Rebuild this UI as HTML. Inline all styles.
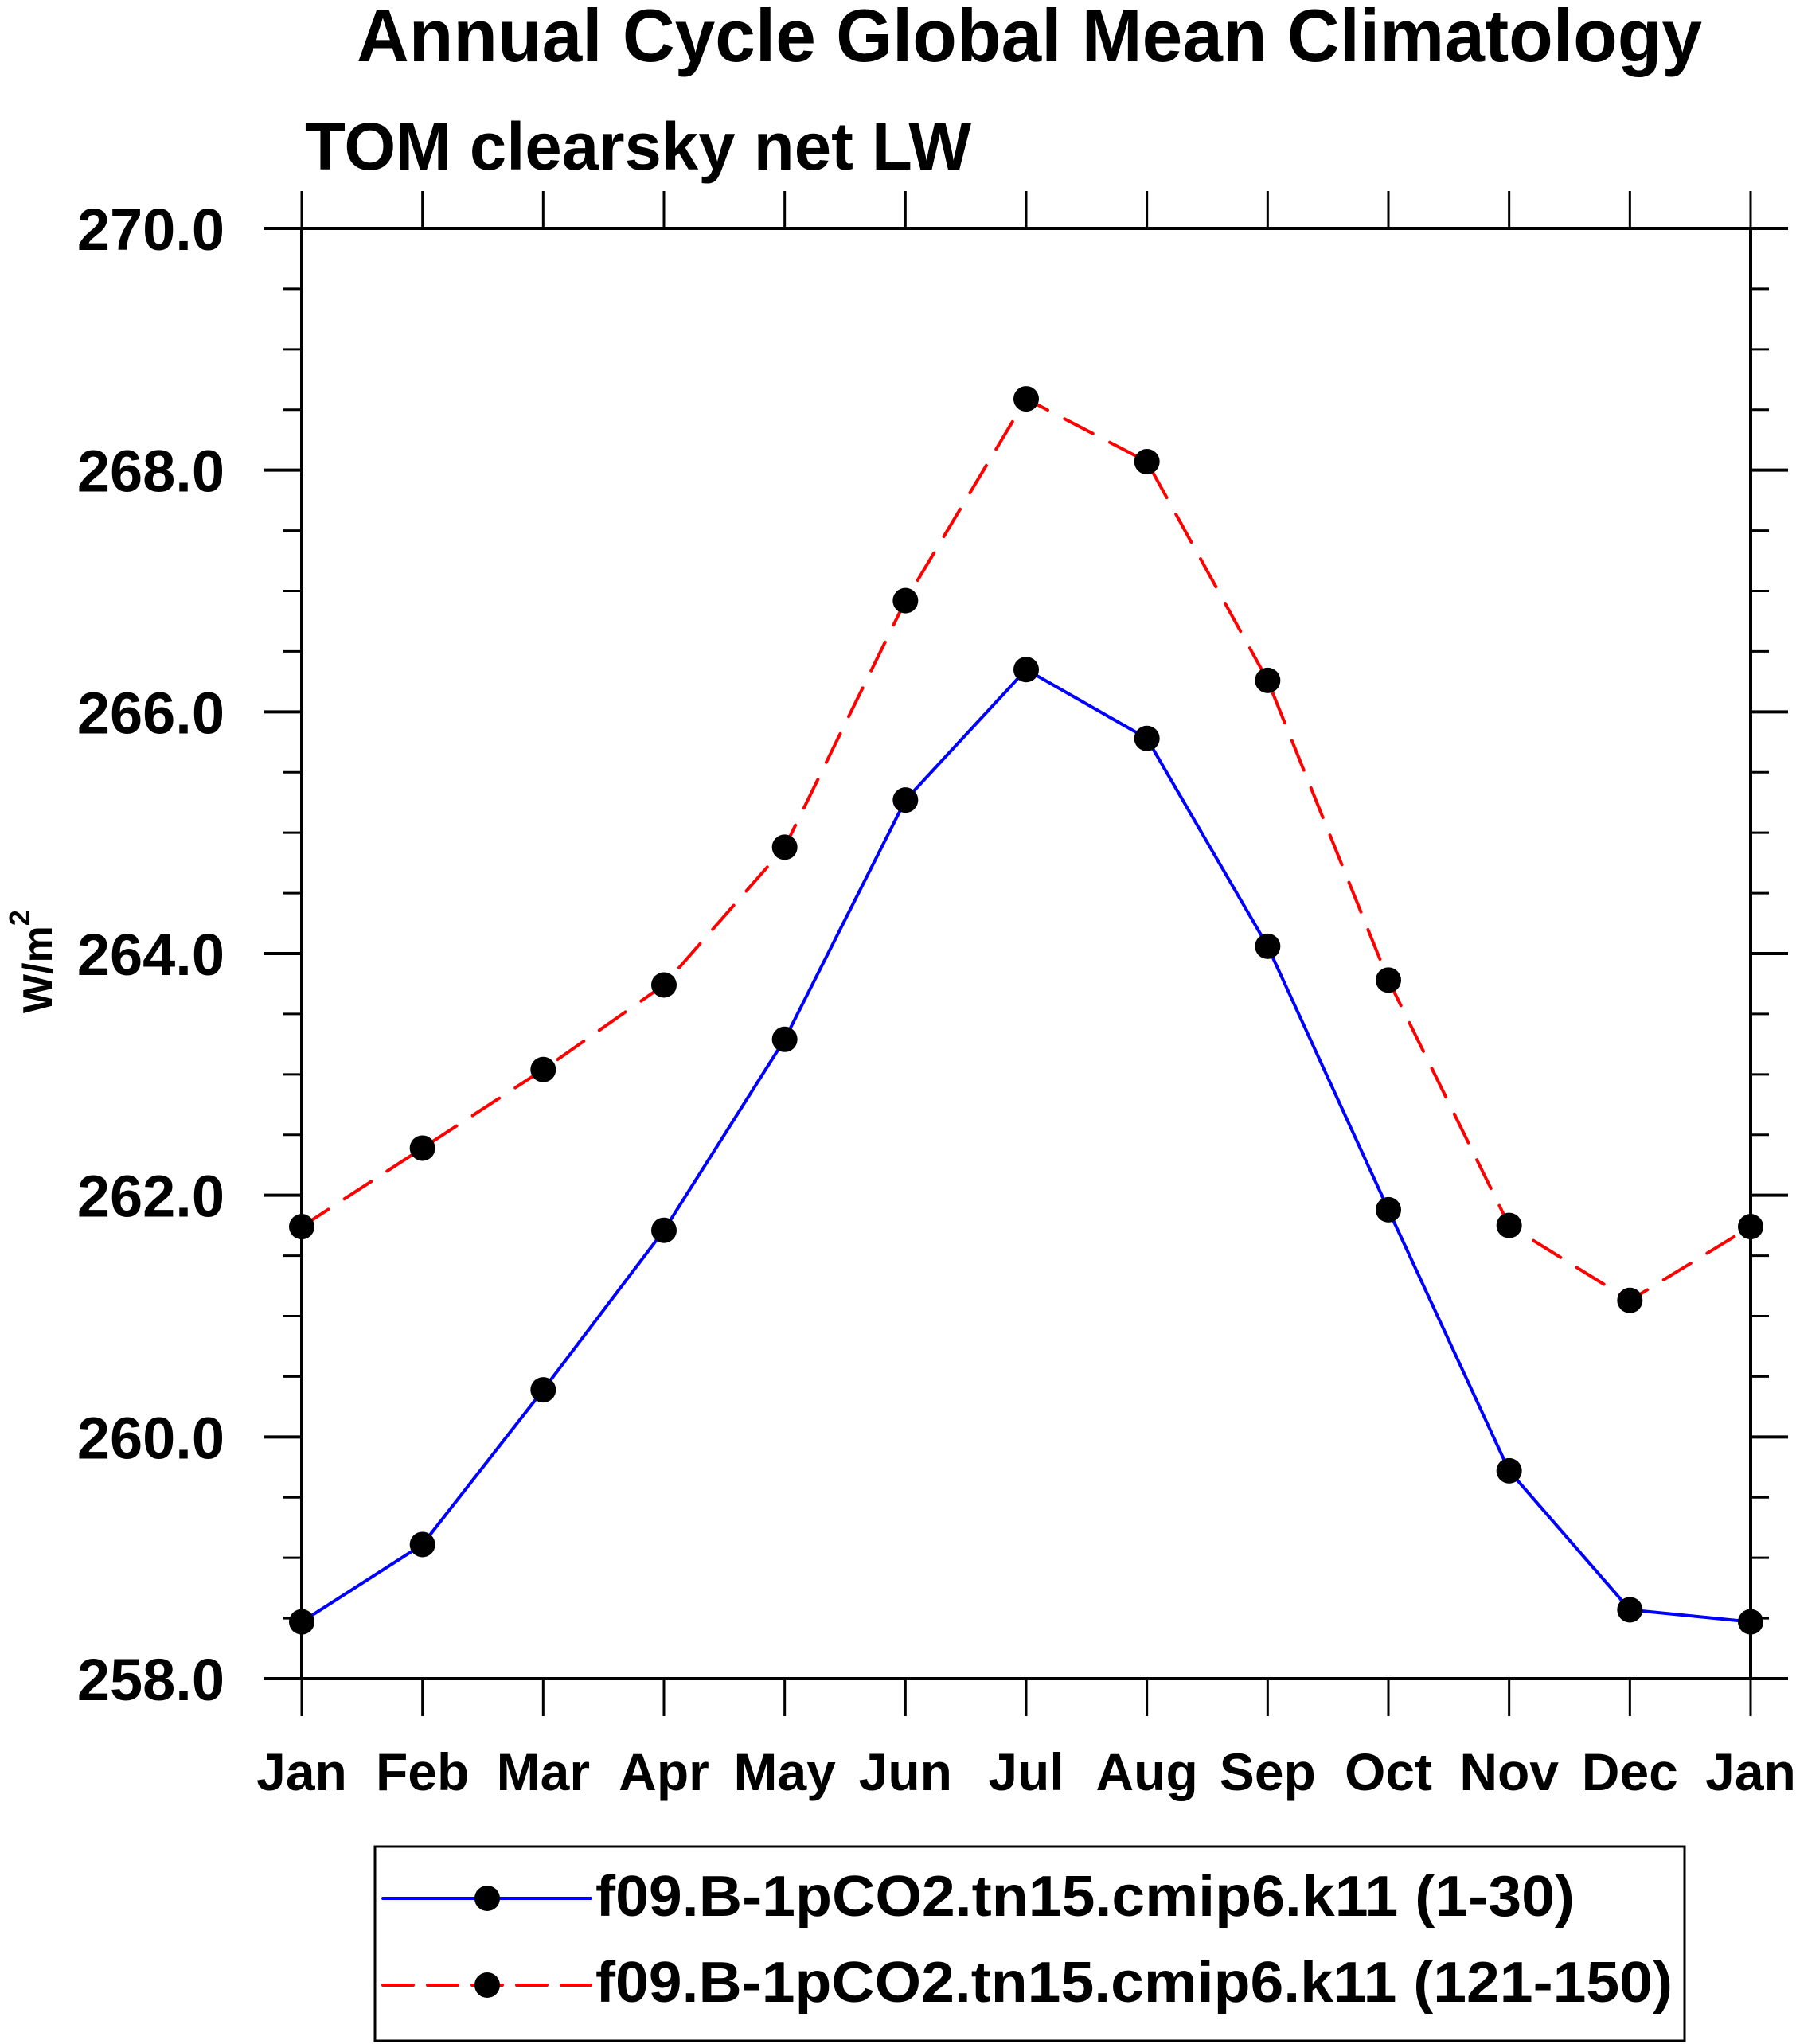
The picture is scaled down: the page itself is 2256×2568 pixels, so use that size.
<!DOCTYPE html>
<html><head><meta charset="utf-8"><style>
html,body{margin:0;padding:0;background:#fff;}
svg{display:block;font-family:"Liberation Sans",sans-serif;font-weight:bold;}
</style></head><body>
<svg id="chart" width="2256" height="2568" viewBox="0 0 2256 2568" xmlns="http://www.w3.org/2000/svg">
<text x="448" y="77" font-size="94" textLength="1690" lengthAdjust="spacingAndGlyphs">Annual Cycle Global Mean Climatology</text>
<text x="383" y="213" font-size="84" textLength="837" lengthAdjust="spacingAndGlyphs">TOM clearsky net LW</text>
<text transform="translate(65,1273) rotate(-90)" font-size="52">W/m<tspan font-size="36" dy="-28">2</tspan></text>
<g id="axes"></g>
<g id="series"></g>
<rect x="471" y="2320" width="1645" height="244" fill="none" stroke="#000" stroke-width="3"/>
<g>
<line x1="481" y1="2385" x2="742" y2="2385" stroke="#0000ff" stroke-width="4" stroke-linecap="round"/>
<circle cx="612" cy="2385" r="16" fill="#000"/>
<text x="748" y="2407" font-size="72" textLength="1230" lengthAdjust="spacingAndGlyphs">f09.B-1pCO2.tn15.cmip6.k11 (1-30)</text>
</g>
<g>
<line x1="481" y1="2494" x2="742" y2="2494" stroke="#ff0000" stroke-width="4" stroke-linecap="round" stroke-dasharray="38 18"/>
<circle cx="612" cy="2494" r="16" fill="#000"/>
<text x="748" y="2515" font-size="72" textLength="1353" lengthAdjust="spacingAndGlyphs">f09.B-1pCO2.tn15.cmip6.k11 (121-150)</text>
</g>
</svg>
<script>
const months = ["Jan","Feb","Mar","Apr","May","Jun","Jul","Aug","Sep","Oct","Nov","Dec","Jan"];
const yTicks = [258,260,262,264,266,268,270];
const yTickLabels = ["258.0","260.0","262.0","264.0","266.0","268.0","270.0"];
const seriesEarly = [258.47,259.11,260.39,261.71,263.29,265.27,266.35,265.78,264.06,261.88,259.72,258.57,258.47];
const seriesLate = [261.74,262.39,263.04,263.74,264.88,266.92,268.59,268.07,266.26,263.78,261.75,261.13,261.74];

const NS="http://www.w3.org/2000/svg";
const L=379,R=2199,T=287,B=2109,YMIN=258,YMAX=270;
function xs(i){return L+(R-L)*i/(months.length-1);}
function ys(v){return B-(B-T)*(v-YMIN)/(YMAX-YMIN);}
function mk(tag,attrs,parent){const e=document.createElementNS(NS,tag);for(const k in attrs)e.setAttribute(k,attrs[k]);parent.appendChild(e);return e;}
const axes=document.getElementById('axes');
const frame=mk('rect',{x:L,y:T,width:R-L,height:B-T,fill:'none',stroke:'#000','stroke-width':4},axes);


// x ticks
months.forEach((m,i)=>{
  const x=xs(i);
  const t1=mk('line',{x1:x,y1:B,x2:x,y2:B+47,stroke:'#000','stroke-width':3},axes);
  
  
  const t2=mk('line',{x1:x,y1:T,x2:x,y2:T-47,stroke:'#000','stroke-width':3},axes);
  
  
  const tx=mk('text',{x:x,y:2249,'font-size':66,'text-anchor':'middle'},axes);
  tx.textContent=m;
  
  
});
// y ticks
for(let v=YMIN;v<=YMAX+1e-9;v+=0.5){
  const y=ys(v);const major=Math.abs(v-Math.round(v/2)*2)<1e-9;const len=major?47:23;
  const a=mk('line',{x1:L,y1:y,x2:L-len,y2:y,stroke:'#000','stroke-width':major?4:3},axes);
  
  
  const b=mk('line',{x1:R,y1:y,x2:R+len,y2:y,stroke:'#000','stroke-width':major?4:3},axes);
  
  
}
yTicks.forEach((v,i)=>{
  const t=mk('text',{x:282,y:ys(v)+27,'font-size':74,'text-anchor':'end'},axes);
  t.textContent=yTickLabels[i];
  
  
});
const sg=document.getElementById('series');
function drawSeries(vals,color,dash,name){
  const pts=vals.map((v,i)=>xs(i)+','+ys(v)).join(' ');
  const pl=mk('polyline',{points:pts,fill:'none',stroke:color,'stroke-width':4,'stroke-linejoin':'round','stroke-linecap':'round'},sg);
  if(dash)pl.setAttribute('stroke-dasharray',dash);
  
  
  vals.forEach((v,i)=>{
    const c=mk('circle',{cx:xs(i),cy:ys(v),r:16,fill:'#000'},sg);
    
    
  });
}
drawSeries(seriesEarly,'#0000ff',null,'series-1-30');
drawSeries(seriesLate,'#ff0000','40 24','series-121-150');
</script>
</body></html>
